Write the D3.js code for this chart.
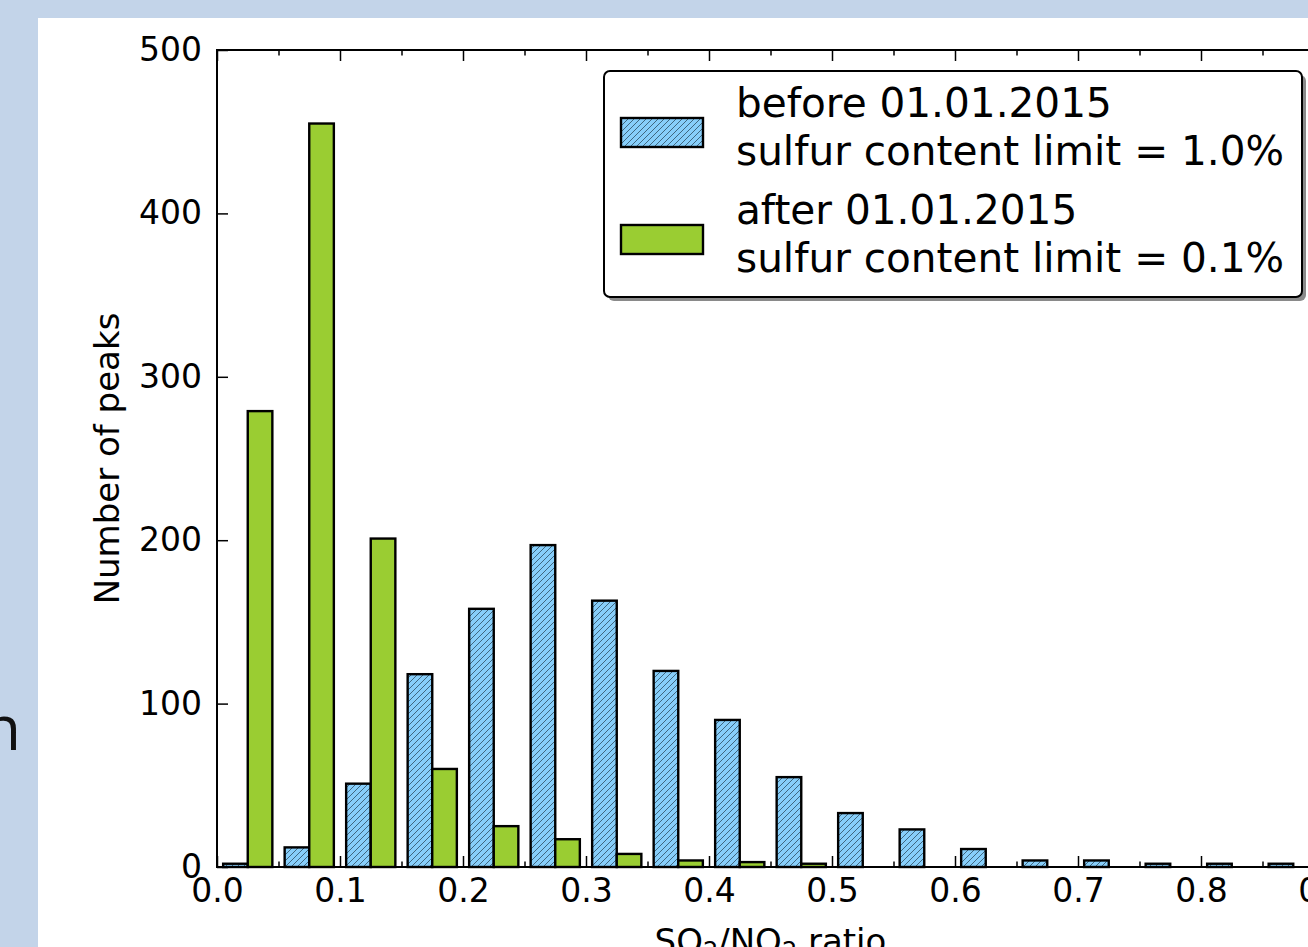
<!DOCTYPE html>
<html>
<head>
<meta charset="utf-8">
<script src="https://cdn.jsdelivr.net/npm/d3@7/dist/d3.min.js"></script>
<style>
  html, body { margin: 0; padding: 0; background: #c3d4e9; }
  svg { display: block; }
  text { font-family: "DejaVu Sans", sans-serif; }
</style>
</head>
<body>
<svg id="chart" width="1308" height="947"></svg>
<script>
// ---- data ----
const binStarts = [0.00, 0.05, 0.10, 0.15, 0.20, 0.25, 0.30, 0.35, 0.40, 0.45, 0.50, 0.55, 0.60, 0.65, 0.70, 0.75, 0.80, 0.85];
const binWidth = 0.05;
const beforeCounts = [2, 12, 51, 118, 158, 197, 163, 120, 90, 55, 33, 23, 11, 4, 4, 2, 2, 2];
const afterCounts  = [279, 455, 201, 60, 25, 17, 8, 4, 3, 2, 0, 0, 0, 0, 0, 0, 0, 0];
const xMajorTicks = [0.0, 0.1, 0.2, 0.3, 0.4, 0.5, 0.6, 0.7, 0.8, 0.9];
const xMinorTicks = [0.05, 0.15, 0.25, 0.35, 0.45, 0.55, 0.65, 0.75, 0.85];
const yTicks = [0, 100, 200, 300, 400, 500];
const legendLabels = [
  ["before 01.01.2015", "sulfur content limit = 1.0%"],
  ["after 01.01.2015", "sulfur content limit = 0.1%"]
];
const yLabel = "Number of peaks";

// ---- layout ----
const svg = d3.select("#chart");
const W = 1308, H = 947;
const plot = { left: 217, right: 1324, top: 50, bottom: 867 };
const blueFill = "#87cefa", greenFill = "#9acd32";

// slide background + white panel
svg.append("rect").attr("x", 0).attr("y", 0).attr("width", W).attr("height", H).attr("fill", "#c3d4e9");
svg.append("rect").attr("x", 38).attr("y", 18).attr("width", W - 38).attr("height", H - 18).attr("fill", "#ffffff");
svg.append("text").attr("x", 21).attr("y", 750).attr("text-anchor", "end")
  .style("font-family", "'Open Sans', 'Liberation Sans', sans-serif")
  .attr("font-size", 62).attr("fill", "#111").text("h");

// hatch pattern
const defs = svg.append("defs");
const pat = defs.append("pattern").attr("id", "hatch").attr("patternUnits", "userSpaceOnUse")
  .attr("width", 6).attr("height", 6);
pat.append("rect").attr("width", 6).attr("height", 6).attr("fill", blueFill);
pat.append("path").attr("d", "M-1,7 L7,-1 M-4,4 L4,-4 M2,10 L10,2")
  .attr("stroke", "#1d3444").attr("stroke-width", 0.9).attr("stroke-opacity", 0.75);

const x = d3.scaleLinear().domain([0, 0.9]).range([plot.left, plot.right]);
const y = d3.scaleLinear().domain([0, 500]).range([plot.bottom, plot.top]);

// bars (matplotlib hist style, rwidth 0.8, two datasets side by side)
const barW = binWidth * 0.8 / 2;
const gBars = svg.append("g");
function drawSeries(values, offsetIndex, fill) {
  gBars.selectAll(null).data(values).enter().append("rect")
    .attr("x", (d, i) => x(binStarts[i] + binWidth * 0.1 + offsetIndex * barW))
    .attr("width", x(barW) - x(0))
    .attr("y", d => y(d))
    .attr("height", d => y(0) - y(d))
    .attr("fill", fill)
    .attr("stroke", "#000").attr("stroke-width", 2.4);
}
drawSeries(beforeCounts, 0, "url(#hatch)");
drawSeries(afterCounts, 1, greenFill);

// axes (ticks inward)
function styleAxis(g) {
  g.select(".domain").remove();
  g.selectAll(".tick line").attr("stroke", "#000").attr("stroke-width", 1.5);
  g.selectAll(".tick text").attr("fill", "#000").attr("font-size", 33)
    .style("font-family", "'DejaVu Sans', sans-serif");
}
svg.append("g").attr("transform", `translate(0,${plot.bottom})`)
  .call(d3.axisBottom(x).tickValues(xMajorTicks).tickFormat(d3.format(".1f")).tickSize(-11).tickPadding(12))
  .call(styleAxis);
svg.append("g").attr("transform", `translate(0,${plot.bottom})`)
  .call(d3.axisBottom(x).tickValues(xMinorTicks).tickFormat("").tickSize(-5.5))
  .call(styleAxis);
svg.append("g").attr("transform", `translate(0,${plot.top})`)
  .call(d3.axisTop(x).tickValues(xMajorTicks).tickFormat("").tickSize(-11))
  .call(styleAxis);
svg.append("g").attr("transform", `translate(0,${plot.top})`)
  .call(d3.axisTop(x).tickValues(xMinorTicks).tickFormat("").tickSize(-5.5))
  .call(styleAxis);
svg.append("g").attr("transform", `translate(${plot.left},0)`)
  .call(d3.axisLeft(y).tickValues(yTicks).tickSize(-11).tickPadding(15))
  .call(styleAxis);
svg.append("g").attr("transform", `translate(${plot.right},0)`)
  .call(d3.axisRight(y).tickValues(yTicks).tickFormat("").tickSize(-11))
  .call(styleAxis);

// frame
svg.append("rect").attr("x", plot.left).attr("y", plot.top)
  .attr("width", plot.right - plot.left).attr("height", plot.bottom - plot.top)
  .attr("fill", "none").attr("stroke", "#000").attr("stroke-width", 2);

// axis labels
svg.append("text")
  .attr("transform", `translate(119,${(plot.top + plot.bottom) / 2}) rotate(-90)`)
  .attr("text-anchor", "middle").attr("font-size", 34).attr("fill", "#000").text(yLabel);
const xl = svg.append("text").attr("x", (plot.left + plot.right) / 2).attr("y", 953)
  .attr("text-anchor", "middle").attr("font-size", 34).attr("fill", "#000");
xl.append("tspan").text("SO");
xl.append("tspan").attr("font-size", 24).attr("dy", 6).text("2");
xl.append("tspan").attr("dy", -6).text("/NO");
xl.append("tspan").attr("font-size", 24).attr("dy", 6).text("2");
xl.append("tspan").attr("dy", -6).text(" ratio");

// legend
const lg = { x: 604, y: 71, w: 698, h: 226 };
const leg = svg.append("g").attr("transform", `translate(${lg.x},${lg.y})`);
leg.append("rect").attr("x", 4).attr("y", 4).attr("width", lg.w).attr("height", lg.h)
  .attr("rx", 6).attr("fill", "#8a8a8a");
leg.append("rect").attr("x", 0).attr("y", 0).attr("width", lg.w).attr("height", lg.h)
  .attr("rx", 6).attr("fill", "#fff").attr("stroke", "#000").attr("stroke-width", 2);
const fills = ["url(#hatch)", greenFill];
legendLabels.forEach((lines, i) => {
  const oy = i * 107;
  leg.append("rect").attr("x", 17).attr("y", 47 + oy).attr("width", 82).attr("height", 29)
    .attr("fill", fills[i]).attr("stroke", "#000").attr("stroke-width", 2.4);
  lines.forEach((t, j) => {
    leg.append("text").attr("x", 132).attr("y", 46 + oy + j * 48)
      .attr("font-size", 40.6).attr("fill", "#000").text(t);
  });
});
</script>
</body>
</html>
